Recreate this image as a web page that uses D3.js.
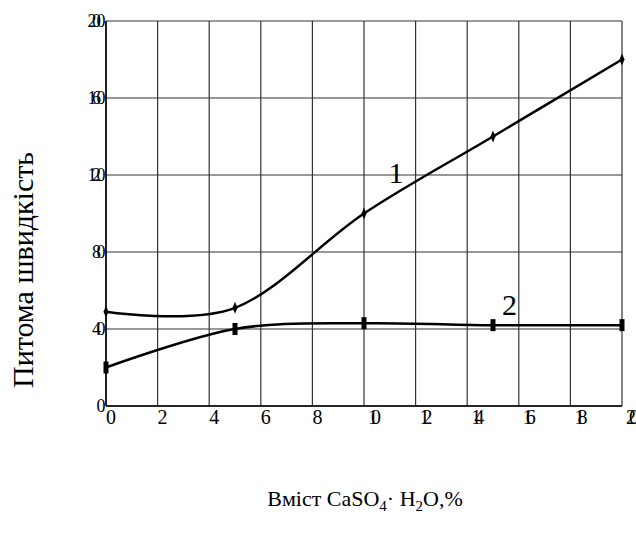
<!DOCTYPE html>
<html><head><meta charset="utf-8">
<script src="https://cdn.jsdelivr.net/npm/d3@7"></script>
<style>body{margin:0;background:#fff}svg{display:block}text{font-family:"Liberation Serif","Times New Roman",serif}</style>
</head><body><svg id="c" width="636" height="535"></svg>
<script>
const xValues = [0, 5, 10, 15, 20];
const series1 = [49, 51, 100, 140, 180];
const series2 = [20, 40, 43, 42, 42];
const xTicks = [0, 2, 4, 6, 8, 10, 12, 14, 16, 18, 20];
const yTicks = [0, 40, 80, 120, 160, 200];
const seriesLabels = ["1", "2"];
const yTitle = "Питома швидкість";

const svg = d3.select("#c");
const x = d3.scaleLinear().domain([0, 20]).range([106, 622]);
const y = d3.scaleLinear().domain([0, 200]).range([406, 21]);

// grid
const g = svg.append("g");
g.selectAll("line.v").data(xTicks).enter().append("line")
  .attr("x1", d => x(d)).attr("x2", d => x(d)).attr("y1", y(0)).attr("y2", y(200))
  .attr("stroke", "#333").attr("stroke-width", 1.2);
g.selectAll("line.h").data(yTicks).enter().append("line")
  .attr("x1", x(0)).attr("x2", x(20)).attr("y1", d => y(d)).attr("y2", d => y(d))
  .attr("stroke", "#333").attr("stroke-width", 1.2);
svg.append("line").attr("x1", x(0)).attr("x2", x(0)).attr("y1", y(0)).attr("y2", y(200))
  .attr("stroke", "#000").attr("stroke-width", 1.5);
svg.append("line").attr("x1", x(0)).attr("x2", x(20)).attr("y1", y(0)).attr("y2", y(0))
  .attr("stroke", "#000").attr("stroke-width", 1.5);

// y tick labels (squeezed)
svg.selectAll("text.yt").data(yTicks).enter().append("text")
  .attr("x", x(0) - 5).attr("y", d => y(d) + 6)
  .attr("text-anchor", "end").attr("font-size", 18)
  .attr("letter-spacing", -4.5).text(d => d);

// x tick labels (squeezed)
svg.selectAll("text.xt").data(xTicks).enter().append("text")
  .attr("x", d => x(d) + (d >= 10 ? 7 : 5)).attr("y", 424)
  .attr("text-anchor", "middle").attr("font-size", 20)
  .attr("letter-spacing", d => d >= 10 ? -7 : 0).text(d => d);

// lines
const line = d3.line().x(d => x(d[0])).y(d => y(d[1])).curve(d3.curveCardinal.tension(0));
const d1 = xValues.map((v, i) => [v, series1[i]]);
const d2 = xValues.map((v, i) => [v, series2[i]]);
svg.append("path").attr("d", line(d1)).attr("fill", "none").attr("stroke", "#000").attr("stroke-width", 2.5);
svg.append("path").attr("d", line(d2)).attr("fill", "none").attr("stroke", "#000").attr("stroke-width", 2.5);

// markers
svg.selectAll("path.m1").data(d1).enter().append("path")
  .attr("d", d => `M${x(d[0])},${y(d[1]) - 6}L${x(d[0]) + 2.5},${y(d[1])}L${x(d[0])},${y(d[1]) + 6}L${x(d[0]) - 2.5},${y(d[1])}Z`)
  .attr("fill", "#000");
svg.selectAll("rect.m2").data(d2).enter().append("rect")
  .attr("x", d => x(d[0]) - 2.5).attr("y", d => y(d[1]) - 6).attr("width", 5).attr("height", 12)
  .attr("fill", "#000");

// series labels
svg.append("text").attr("x", x(10.95)).attr("y", y(116)).attr("font-size", 30).text(seriesLabels[0]);
svg.append("text").attr("x", x(15.35)).attr("y", y(47.5)).attr("font-size", 30).text(seriesLabels[1]);

// axis titles
svg.append("text").attr("transform", "translate(33,270) rotate(-90)").attr("text-anchor", "middle")
  .attr("font-size", 30).text(yTitle);
const xt = svg.append("text").attr("x", 365).attr("y", 506).attr("text-anchor", "middle")
  .attr("font-size", 22);
xt.append("tspan").text("Вміст CaSO");
xt.append("tspan").attr("font-size", 15).attr("dy", 5).text("4");
xt.append("tspan").attr("dy", -5).text("· H");
xt.append("tspan").attr("font-size", 15).attr("dy", 5).text("2");
xt.append("tspan").attr("dy", -5).text("O,%");
</script></body></html>
